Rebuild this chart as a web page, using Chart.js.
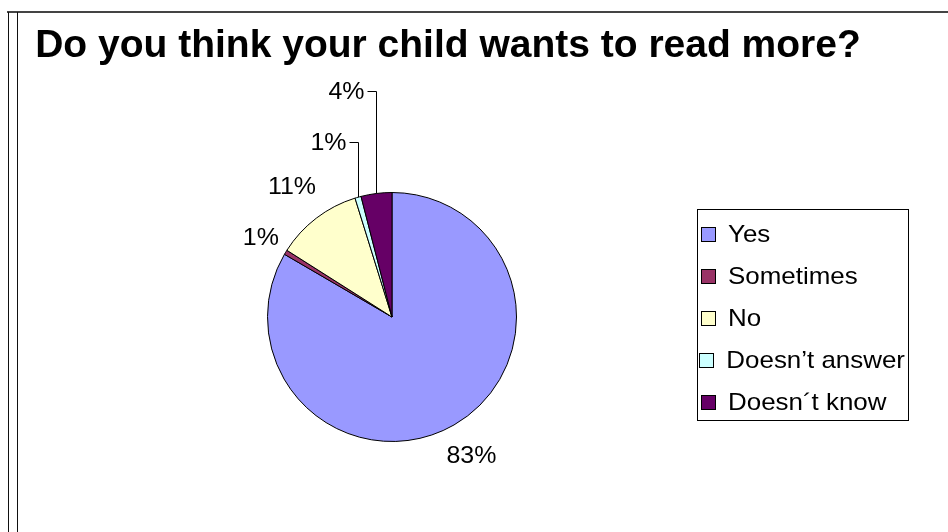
<!DOCTYPE html>
<html lang="en">
<head>
  <meta charset="UTF-8">
  <script src="https://cdn.jsdelivr.net/npm/chart.js@4.4.1/dist/chart.umd.min.js"></script>
  <title>Read more</title>
</head>
<style>
*{
    margin: 0px;
    padding: 0px;
    box-sizing: border-box;
}
body{
    background: white;
    width: 948px;
    height: 532px;
    overflow: hidden;
    position: relative;
}
#diagram{
    position: absolute;
    left: 0px;
    top: 0px;
    width: 948px;
    height: 532px;
}
.edge{
    position: absolute;
    background: #111;
}
</style>
<body>
    <div class="edge" style="left:7px;top:11px;width:941px;height:2px;background:#444"></div>
    <div class="edge" style="left:8px;top:12px;width:1px;height:520px"></div>
    <div class="edge" style="left:17px;top:12px;width:1px;height:520px"></div>
    <div id="diagram">
        <canvas id="pieChart"></canvas>
    </div>
    <script>

// data
const titleText = "Do you think your child wants to read more?";
const answers = ["Yes", "Sometimes", "No", "Doesn\u2019t answer", "Doesn\u00b4t know"];
const shares = [83.4, 0.6, 11.2, 0.8, 4.0];
const sliceColors = ["#9999FF", "#993366", "#FFFFCC", "#CCFFFF", "#660066"];

// how each percent label sits: radial gap, or lifted above the pie with a leader line
const labelMode = ["radial", "radial", "radial", "leader", "leader"];
const labelGap = [35, 29, 40, 0, 0];
const labelLift = [0, 0, 0, 51, 102];

const FONT = '"Liberation Sans", Arial, sans-serif';

// excel text is drawn a bit wider than ours
function wideText(ctx, txt, x, y, align, sx) {
  const w = ctx.measureText(txt).width * sx;
  let left = x;
  if (align === "center") left = x - w / 2;
  if (align === "right") left = x - w;
  ctx.save();
  ctx.translate(left, y);
  ctx.scale(sx, 1);
  ctx.textAlign = "left";
  ctx.fillText(txt, 0, 0);
  ctx.restore();
  return w;
}

const excelLook = {
  id: "excelLook",
  afterDraw(chart) {
    const ctx = chart.ctx;
    const meta = chart.getDatasetMeta(0);
    const total = shares.reduce((a, b) => a + b, 0);
    ctx.save();
    ctx.textBaseline = "middle";

    // title
    ctx.fillStyle = "#000";
    ctx.font = "bold 39px " + FONT;
    wideText(ctx, titleText, 448, 46, "center", 1);

    // percent labels
    ctx.font = "24px " + FONT;
    ctx.strokeStyle = "#000";
    ctx.lineWidth = 1;
    meta.data.forEach((arc, i) => {
      const p = arc.getProps(["x", "y", "startAngle", "endAngle", "outerRadius"], true);
      const mid = (p.startAngle + p.endAngle) / 2;
      const ex = p.x + Math.cos(mid) * p.outerRadius;
      const ey = p.y + Math.sin(mid) * p.outerRadius;
      const txt = Math.round(shares[i] / total * 100) + "%";
      if (labelMode[i] === "radial") {
        const d = p.outerRadius + labelGap[i];
        wideText(ctx, txt, p.x + Math.cos(mid) * d, p.y + Math.sin(mid) * d + 1, "center", 1.04);
      } else {
        const ly = Math.round(p.y - p.outerRadius - labelLift[i]) + 0.5;
        const lx = Math.round(ex) + 0.5;
        ctx.beginPath();
        ctx.moveTo(lx, ey);
        ctx.lineTo(lx, ly);
        ctx.lineTo(lx - 9, ly);
        ctx.stroke();
        wideText(ctx, txt, lx - 12, ly + 1, "right", 1.04);
      }
    });

    // legend
    const bx = 697, by = 209, bw = 211, bh = 211;
    ctx.fillStyle = "#fff";
    ctx.fillRect(bx, by, bw, bh);
    ctx.strokeStyle = "#000";
    ctx.strokeRect(bx + 0.5, by + 0.5, bw, bh);
    ctx.font = "24px " + FONT;
    const sx = 1.08;
    answers.forEach((name, i) => {
      const cy = by + 25 + i * 42;
      const w = ctx.measureText(name).width * sx;
      const tx = Math.min(bx + 31, bx + bw - 3 - w);
      const mx = Math.round(tx - 26);
      ctx.fillStyle = sliceColors[i];
      ctx.fillRect(mx, cy - 6, 13, 13);
      ctx.strokeStyle = "#000";
      ctx.strokeRect(mx - 0.5, cy - 6.5, 14, 14);
      ctx.fillStyle = "#000";
      wideText(ctx, name, tx, cy + 1, "left", sx);
    });
    ctx.restore();
  }
};

const config = {
  type: "pie",
  data: {
    labels: answers,
    datasets: [{
      data: shares,
      backgroundColor: sliceColors,
      borderColor: "#000",
      borderWidth: 1
    }]
  },
  options: {
    responsive: false,
    animation: false,
    events: [],
    layout: { padding: { left: 267, right: 431, top: 192, bottom: 90 } },
    plugins: {
      legend: { display: false },
      tooltip: { enabled: false }
    }
  },
  plugins: [excelLook]
};

const canvas = document.getElementById("pieChart");
canvas.width = 948;
canvas.height = 532;
var myChart = new Chart(canvas, config);
    </script>
</body>
</html>
